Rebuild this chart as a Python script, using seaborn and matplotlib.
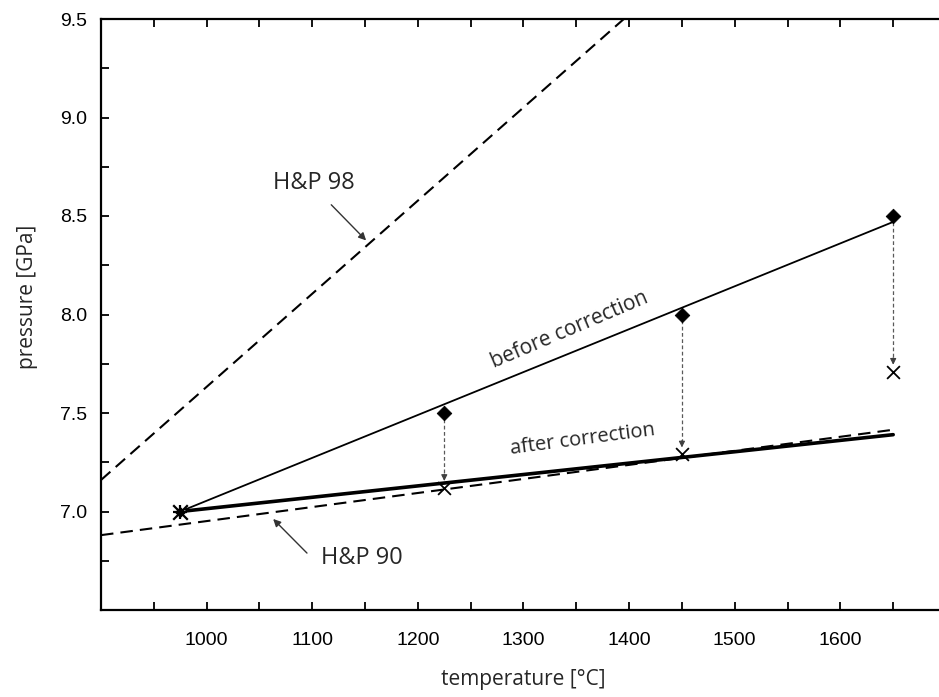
import numpy as np
import pandas as pd
import matplotlib
matplotlib.use('Agg')
import matplotlib.pyplot as plt
from matplotlib.ticker import MultipleLocator
import seaborn as sns

# values
before_T = [975, 1650]
before_P = [7.0, 8.47]
after_T = [975, 1650]
after_P = [7.0, 7.39]
hp90_T = [900, 1650]
hp90_P = [6.88, 7.415]
hp98_T = [900, 1395]
hp98_P = [7.16, 9.5]
meas_T = [1225, 1450, 1650]
meas_P = [7.5, 8.0, 8.5]
corr_P = [7.12, 7.29, 7.71]
start_T = [975]
start_P = [7.0]
xticks = [1000, 1100, 1200, 1300, 1400, 1500, 1600]
yticks = [7.0, 7.5, 8.0, 8.5, 9.0, 9.5]

sns.set_style('ticks')
plt.rcParams['font.family'] = ['Liberation Sans', 'DejaVu Sans']
label_font = ['Open Sans', 'DejaVu Sans']

fig = plt.figure(figsize=(9.39, 6.97), dpi=100)
ax = fig.add_axes([101 / 939, 87 / 697, 845 / 939, 591 / 697])

dash = (0, (6.0, 3.4))
sns.lineplot(x=hp98_T, y=hp98_P, ax=ax, color='black', lw=1.5, linestyle=dash)
sns.lineplot(x=hp90_T, y=hp90_P, ax=ax, color='black', lw=1.5, linestyle=dash)
sns.lineplot(x=before_T, y=before_P, ax=ax, color='black', lw=1.3)
sns.lineplot(x=after_T, y=after_P, ax=ax, color='black', lw=2.6)

# correction arrows
for t, p0, p1 in zip(meas_T, meas_P, corr_P):
    ax.plot([t, t], [p0 - 0.03, p1 + 0.05], color='0.35', lw=0.9, ls=(0, (3, 2)))
    ax.annotate('', xy=(t, p1 + 0.035), xytext=(t, p1 + 0.07),
                arrowprops=dict(arrowstyle='-|>', color='0.25', lw=0.8,
                                mutation_scale=9, shrinkA=0, shrinkB=0))

sns.scatterplot(x=meas_T, y=meas_P, ax=ax, marker='D', color='black', s=55,
                edgecolor='black', zorder=5)
sns.scatterplot(x=meas_T, y=corr_P, ax=ax, marker='x', color='black', s=85,
                linewidth=1.3, zorder=5)
sns.scatterplot(x=start_T, y=start_P, ax=ax, marker='D', color='black', s=40, zorder=5)
sns.scatterplot(x=start_T, y=start_P, ax=ax, marker='x', color='black', s=110,
                linewidth=1.6, zorder=6)
sns.scatterplot(x=start_T, y=start_P, ax=ax, marker='+', color='black', s=110,
                linewidth=1.6, zorder=6)

ax.set_xlim(900, 1700)
ax.set_ylim(6.5, 9.5)
ax.xaxis.set_major_locator(MultipleLocator(50))
ax.yaxis.set_major_locator(MultipleLocator(0.25))
ax.set_xticklabels([str(int(v)) if v in xticks else '' for v in ax.get_xticks()])
ax.set_yticklabels([f'{v:.1f}' if round(v, 2) in yticks else '' for v in ax.get_yticks()])
ax.tick_params(axis='both', direction='in', length=6, width=1.3, labelsize=14,
               top=True, colors='black')
ax.tick_params(axis='x', pad=16)
ax.tick_params(axis='y', pad=10)
ax.set_xlim(900, 1700)
ax.set_ylim(6.5, 9.5)
for side in ['left', 'bottom', 'top']:
    ax.spines[side].set_linewidth(1.6)
    ax.spines[side].set_color('black')
ax.spines['right'].set_visible(False)

ax.set_xlabel('temperature [°C]', family=label_font, fontsize=15)
ax.set_ylabel('pressure [GPa]', family=label_font, fontsize=15)
ax.xaxis.set_label_coords(0.5, -0.1)
ax.yaxis.set_label_coords(-0.075, 0.53)

ax.text(1344, 7.923, 'before correction', family=label_font, fontsize=15,
        rotation=23, ha='center', va='center', rotation_mode='anchor')
ax.text(1356, 7.364, 'after correction', family=label_font, fontsize=14.5,
        rotation=7.5, ha='center', va='center', rotation_mode='anchor')
ax.text(1102, 8.67, 'H&P 98', family=label_font, fontsize=17, ha='center', va='center')
ax.text(1147, 6.765, 'H&P 90', family=label_font, fontsize=17, ha='center', va='center')
ax.annotate('', xy=(1151, 8.376), xytext=(1118, 8.557),
            arrowprops=dict(arrowstyle='-|>', color='0.2', lw=1.0, mutation_scale=11,
                            shrinkA=0, shrinkB=0))
ax.annotate('', xy=(1063, 6.962), xytext=(1095, 6.789),
            arrowprops=dict(arrowstyle='-|>', color='0.2', lw=1.0, mutation_scale=11,
                            shrinkA=0, shrinkB=0))

fig.savefig('out.png', dpi=100)
